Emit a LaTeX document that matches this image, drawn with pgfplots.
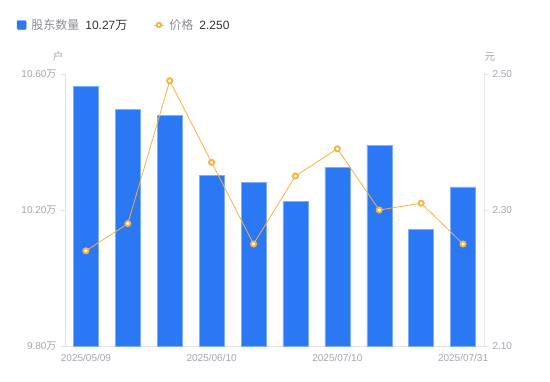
\documentclass[border=0pt]{standalone}
\usepackage{fontspec}
\setmainfont{Liberation Sans}
\newfontfamily\cjk{Noto Sans CJK SC}
\usepackage{pgfplots}
\usepackage{pgfplotstable}
\pgfplotsset{compat=1.18}
\definecolor{barblue}{HTML}{2A78F4}
\definecolor{baredge}{HTML}{7FAEF8}
\definecolor{lineorange}{HTML}{FBB03B}
\definecolor{axisgrey}{HTML}{E3E3E6}
\definecolor{ticktext}{HTML}{A2A5AF}
\definecolor{legtext}{HTML}{8A8D96}
\definecolor{valtext}{HTML}{333333}

\pgfplotstableread{
x hold price
0 10.563 2.240
1 10.496 2.280
2 10.479 2.490
3 10.301 2.370
4 10.282 2.250
5 10.225 2.350
6 10.325 2.390
7 10.391 2.300
8 10.144 2.310
9 10.268 2.250
}\datatable

\pgfplotsset{common/.style={
  scale only axis, width=419pt, height=272pt,
  at={(65pt,-346pt)}, anchor=south west,
  xmin=-0.5, xmax=9.5,
  axis line style={draw=axisgrey, line width=0.8pt},
  tick style={draw=axisgrey, line width=0.8pt},
  major tick length=5pt, tick align=outside,
  ticklabel style={font=\fontsize{10}{12}\selectfont, text=ticktext},
  /pgf/number format/assume math mode=true,
}}

\begin{document}
\begin{tikzpicture}
\path[use as bounding box] (0,0) rectangle (550pt,-381pt);
\begin{axis}[common,
  axis y line*=left, axis x line*=bottom,
  ymin=9.8, ymax=10.6, ytick={9.8,10.2,10.6},
  yticklabel={\pgfmathprintnumber[fixed,fixed zerofill,precision=2]{\tick}{\cjk 万}},
  xtick={0,3,6,9},
  xticklabels={2025/05/09,2025/06/10,2025/07/10,2025/07/31},
  x tick style={draw=none},
  ylabel={\cjk 户},
  every axis y label/.style={at={(axis description cs:-0.0167,1.0625)},anchor=center,font=\fontsize{10.5}{12}\selectfont,text=ticktext},
]
\addplot[ybar, bar width=25pt, fill=barblue, draw=baredge, line width=0.5pt] table[x=x,y=hold]{\datatable};
\end{axis}
\begin{axis}[common,
  axis y line*=right, axis x line=none,
  ymin=2.1, ymax=2.5, ytick={2.1,2.3,2.5},
  yticklabel={\pgfmathprintnumber[fixed,fixed zerofill,precision=2]{\tick}},
  ylabel={\cjk 元},
  every axis y label/.style={at={(axis description cs:1.0143,1.0625)},anchor=center,font=\fontsize{10.5}{12}\selectfont,text=ticktext},
  legend columns=2,
  legend cell align=left,
  legend style={at={(-0.1146,1.180)}, anchor=west, draw=none, fill=none,
    inner sep=0pt, outer sep=0pt, font=\fontsize{12}{14}\selectfont,
    nodes={inner sep=0pt},
    /tikz/every odd column/.style={column sep=5pt},
    /tikz/every even column/.style={column sep=26pt}},
]
\addlegendimage{legend image code/.code={\fill[barblue, rounded corners=1pt] (0pt,-4.5pt) rectangle (9pt,4.5pt);}}
\addlegendentry{{\color{legtext}\cjk 股东数量}\hspace{6pt}{\color{valtext}10.27{\cjk 万}}}
\addplot[lineorange, line width=0.8pt, mark=*, mark size=2.6pt,
  mark options={fill=white, draw=lineorange, line width=1.8pt},
  legend image code/.code={\draw[lineorange, line width=1pt] (0pt,0pt)--(10pt,0pt);
    \draw[lineorange, fill=white, line width=1.7pt] (5pt,0pt) circle (2.3pt);}]
  table[x=x,y=price]{\datatable};
\addlegendentry{{\color{legtext}\cjk 价格}\hspace{6pt}{\color{valtext}2.250}}
\end{axis}
\end{tikzpicture}
\end{document}
